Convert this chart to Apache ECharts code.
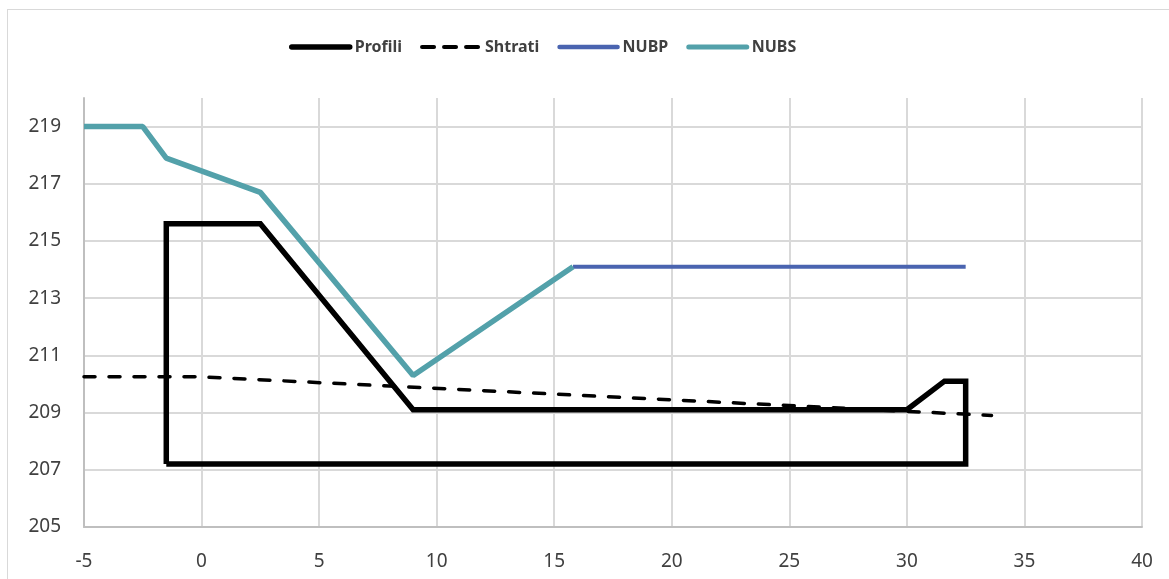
<!DOCTYPE html>
<html>
<head>
<meta charset="utf-8">
<script src="https://cdn.jsdelivr.net/npm/echarts@6/dist/echarts.min.js"></script>
<style>
  html, body { margin: 0; padding: 0; background: #fff; }
  #wrap { position: relative; width: 1169px; height: 579px; overflow: hidden; }
  #frame { position: absolute; left: 7px; top: 9px; width: 1200px; height: 620px; border: 1px solid #d9d9d9; }
  #chart { position: absolute; left: 0; top: 0; width: 1169px; height: 579px; }
</style>
</head>
<body>
<div id="wrap">
  <div id="frame"></div>
  <div id="chart"></div>
</div>
<script>
// profile polygon (distance, elevation)
const profili = [
  [-1.5, 207.2], [-1.5, 215.6], [2.5, 215.6], [9, 209.1], [30, 209.1],
  [31.6, 210.1], [32.5, 210.1], [32.5, 207.2], [-1.5, 207.2]
]
const shtrati = [[-5, 210.25], [0, 210.25], [33.6, 208.9]]
const nubp = [[15.8, 214.1], [32.5, 214.1]]
const nubs = [
  [-5, 219], [-2.5, 219], [-1.5, 217.9], [2.5, 216.7], [9, 210.3], [15.8, 214.1]
]
const seriesNames = ['Profili', 'Shtrati', 'NUBP', 'NUBS']

const font = '"Noto Sans", "Open Sans", sans-serif'
const gridColor = '#d9d9d9'
const axisColor = '#bfbfbf'
const dash = [11, 14]

const chart = echarts.init(document.getElementById('chart'), null, { renderer: 'canvas' })

chart.setOption({
  backgroundColor: 'transparent',
  animation: false,
  grid: { left: 84, right: 27, top: 98, bottom: 52 },
  legend: {
    left: 284,
    top: 34,
    itemWidth: 58,
    itemHeight: 10,
    itemGap: 18,
    itemStyle: { opacity: 0 },
    textStyle: { fontFamily: font, fontSize: 16, fontWeight: 'bold', color: '#404040' },
    data: [
      { name: seriesNames[0], lineStyle: { width: 5.5, cap: 'round' } },
      { name: seriesNames[1], lineStyle: { width: 4, type: [12, 10], cap: 'round' } },
      { name: seriesNames[2], lineStyle: { width: 4.5, cap: 'round' } },
      { name: seriesNames[3], lineStyle: { width: 5, cap: 'round' } }
    ]
  },
  xAxis: {
    type: 'value',
    min: -5,
    max: 40,
    interval: 5,
    axisLine: { show: true, lineStyle: { color: axisColor, width: 2 } },
    axisTick: { show: false },
    axisLabel: { color: '#404040', fontFamily: font, fontSize: 19, margin: 25 },
    splitLine: { show: true, lineStyle: { color: gridColor, width: 2 } }
  },
  yAxis: {
    type: 'value',
    min: 205,
    max: 220,
    interval: 2,
    axisLine: { show: true, onZero: false, lineStyle: { color: axisColor, width: 2 } },
    axisTick: { show: false },
    axisLabel: { color: '#404040', fontFamily: font, fontSize: 19, margin: 23, showMaxLabel: false },
    splitLine: { show: true, showMaxLine: false, lineStyle: { color: gridColor, width: 2 } }
  },
  series: [
    {
      name: 'Profili', type: 'line', data: profili, symbol: 'none',
      color: '#000',
      lineStyle: { color: '#000', width: 5.5, join: 'miter' }
    },
    {
      name: 'Shtrati', type: 'line', data: shtrati, symbol: 'none',
      color: '#000',
      lineStyle: { color: '#000', width: 3.5, type: dash, cap: 'round' }
    },
    {
      name: 'NUBP', type: 'line', data: nubp, symbol: 'none',
      color: '#4a64b0',
      lineStyle: { color: '#4a64b0', width: 4 }
    },
    {
      name: 'NUBS', type: 'line', data: nubs, symbol: 'none',
      color: '#53a1aa',
      lineStyle: { color: '#53a1aa', width: 5.5 }
    }
  ]
})
</script>
</body>
</html>
